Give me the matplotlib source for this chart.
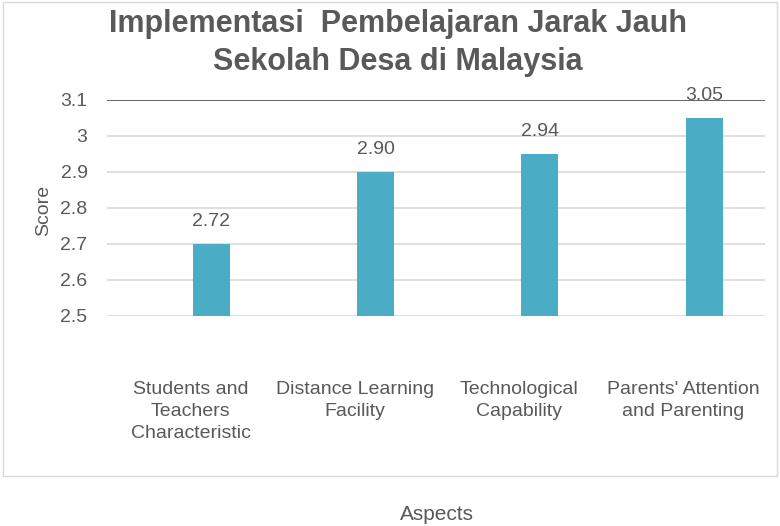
import matplotlib.pyplot as plt
from matplotlib.patches import Rectangle
from matplotlib.ticker import FormatStrFormatter
from matplotlib.transforms import ScaledTranslation

plt.rcParams['font.family'] = ['Liberation Sans', 'DejaVu Sans']

# data
aspects = ["Students and\nTeachers\nCharacteristic", "Distance Learning\nFacility",
           "Technological\nCapability", "Parents' Attention\nand Parenting"]
scores = [2.70, 2.90, 2.95, 3.05]
score_labels = ["2.72", "2.90", "2.94", "3.05"]
y_ticks = [2.5, 2.6, 2.7, 2.8, 2.9, 3.0, 3.1]

grey = '#595959'
bar_color = '#4bacc6'

W, H = 780, 526
fig = plt.figure(figsize=(W / 100, H / 100), dpi=100)

# outer chart border
fig.patches.append(Rectangle((3 / W, 1 - 476 / H), 774 / W, 474 / H,
                             transform=fig.transFigure, fill=False,
                             edgecolor='#d9d9d9', linewidth=1))

ax = fig.add_axes([107 / W, 1 - 316 / H, (765 - 107) / W, (316 - 100) / H])

x = list(range(len(aspects)))
ax.bar(x, scores, width=0.225, color=bar_color, zorder=3)
ax.set_xlim(-0.636, 3.371)
ax.set_ylim(2.5, 3.1)

for xi, v, lab in zip(x, scores, score_labels):
    ax.annotate(lab, (xi, v), xytext=(0, 22), textcoords='offset pixels',
                ha='center', va='center', fontsize=14, color=grey, zorder=4)

ax.set_yticks(y_ticks)
ax.yaxis.set_major_formatter(FormatStrFormatter('%g'))
ax.set_xticks(x)
ax.set_xticklabels(aspects, fontsize=14, color=grey, linespacing=1.38)
ax.tick_params(axis='x', length=0, pad=47)
ax.tick_params(axis='y', length=0, pad=14, labelsize=14, labelcolor=grey)

# category labels sit a bit left of the bars, as in the original
shift = ScaledTranslation(-21 / 100, 0, fig.dpi_scale_trans)
for t in ax.get_xticklabels():
    t.set_transform(t.get_transform() + shift)

for s in ax.spines.values():
    s.set_visible(False)
ax.yaxis.grid(True, color='#d9d9d9', linewidth=1.2, zorder=0)
ax.set_axisbelow(True)
top_line = ax.get_ygridlines()[-1]
top_line.set_color(grey)
top_line.set_linewidth(1.3)

fig.text(398 / W, 1 - 43 / H, "Implementasi  Pembelajaran Jarak Jauh\nSekolah Desa di Malaysia",
         ha='center', va='center', fontsize=22, fontweight='bold', color=grey,
         linespacing=1.35)
fig.text(44 / W, 1 - 210 / H, "Score", rotation=90, ha='center', va='center',
         fontsize=14, color=grey)
fig.text(437 / W, 1 - 515 / H, "Aspects", ha='center', va='center',
         fontsize=15, color=grey)

fig.savefig('out.png', dpi=100)
